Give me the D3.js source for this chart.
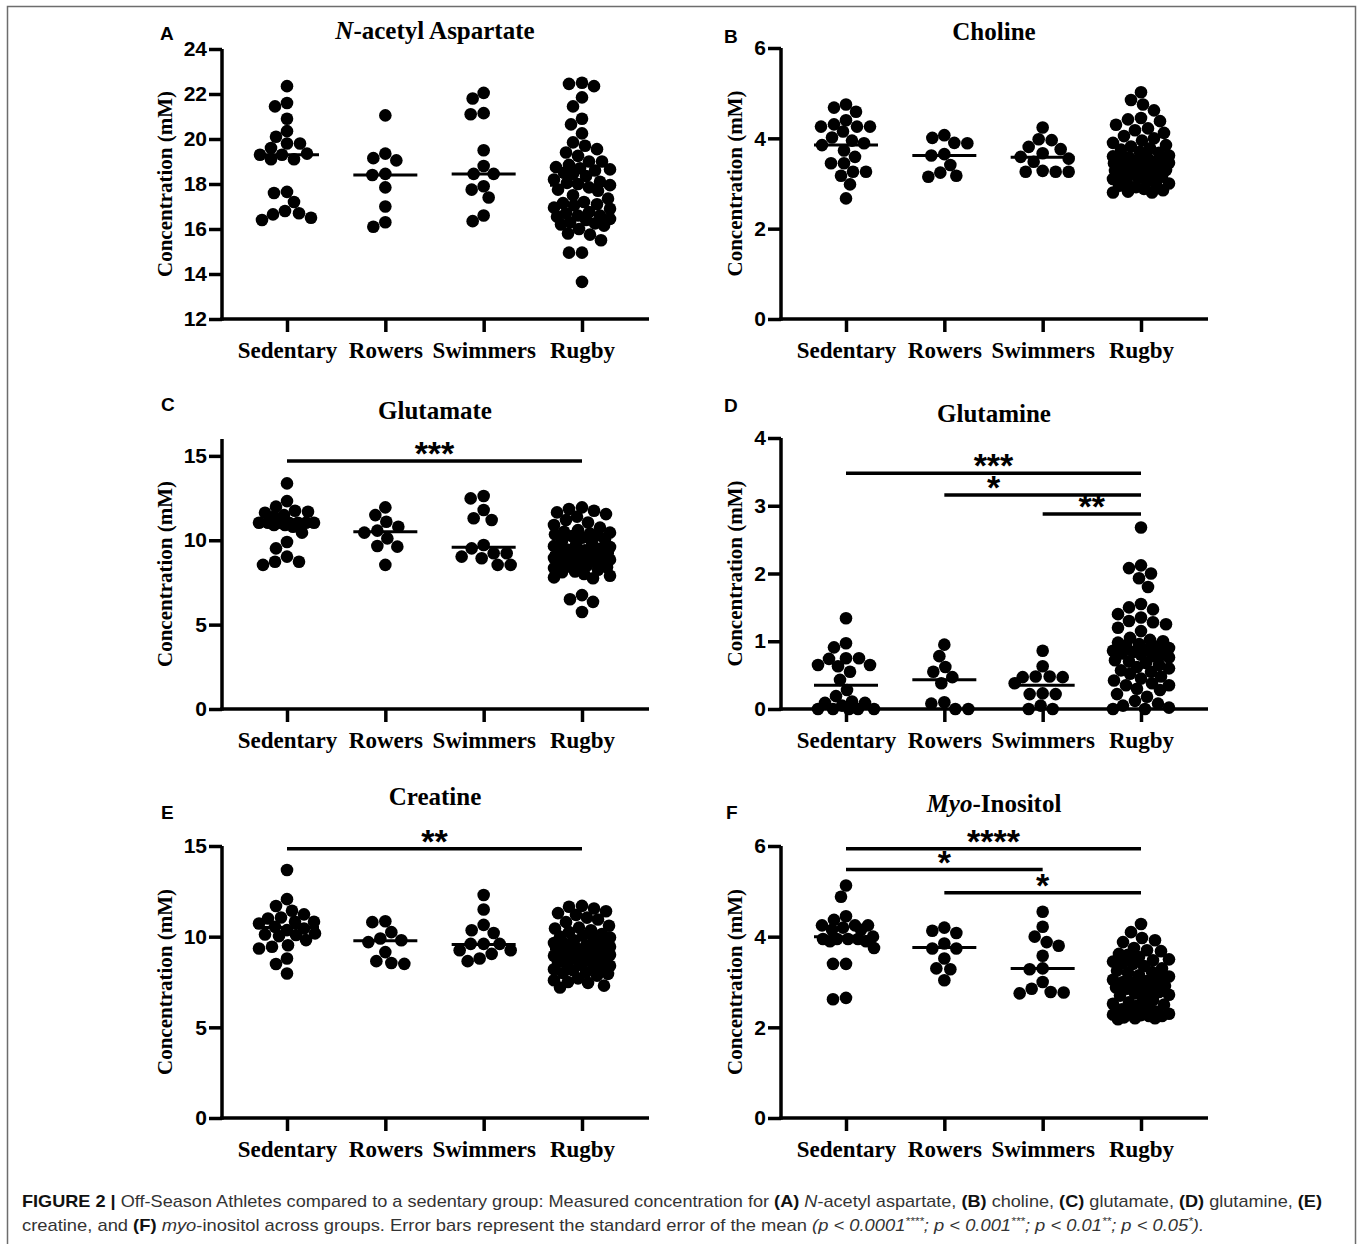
<!DOCTYPE html>
<html>
<head>
<meta charset="utf-8">
<script src="https://cdn.jsdelivr.net/npm/d3@7"></script>
<style>
  body { margin: 0; background: #fff; }
  svg { display: block; }
  .tick text { font-family: "Liberation Sans", Arial, sans-serif; font-weight: bold; font-size: 21px; fill: #000; }
  .xcat .tick text { font-family: "Liberation Serif", "Times New Roman", serif; font-size: 23px; }
</style>
</head>
<body>
<script>
// groups and panel text
const categories = ["Sedentary", "Rowers", "Swimmers", "Rugby"];
const panelLetters = ["A", "B", "C", "D", "E", "F"];
const panelTitles = ["N-acetyl Aspartate", "Choline", "Glutamate", "Glutamine", "Creatine", "Myo-Inositol"];
const titleItalic = ["N", "", "", "", "", "Myo"];
const yLabel = "Concentration (mM)";

// tick values
const naaTicks = [12, 14, 16, 18, 20, 22, 24];
const cholineTicks = [0, 2, 4, 6];
const glutamateTicks = [0, 5, 10, 15];
const glutamineTicks = [0, 1, 2, 3, 4];
const creatineTicks = [0, 5, 10, 15];
const myoTicks = [0, 2, 4, 6];

// y domains
const naaDomain = [12, 24];
const cholineDomain = [0, 6];
const glutamateDomain = [0, 16];
const glutamineDomain = [0, 4];
const creatineDomain = [0, 15];
const myoDomain = [0, 6];

// measured values (mM) per group: Sedentary, Rowers, Swimmers, Rugby
const naa = [
  [22.35, 21.6, 21.45, 20.9, 20.35, 20.1, 19.8, 19.8, 19.6, 19.35, 19.3, 19.3, 19.1, 19.1, 17.65, 17.6, 17.2, 16.8, 16.65, 16.7, 16.5, 16.4],
  [21.05, 19.35, 19.15, 19.05, 18.45, 18.4, 17.85, 17.0, 16.3, 16.1],
  [22.05, 21.8, 21.15, 21.1, 19.5, 18.8, 18.45, 18.45, 17.9, 17.75, 17.4, 16.6, 16.35],
  [22.5, 22.45, 22.35, 21.85, 21.45, 20.9, 20.65, 20.25, 19.85, 19.7, 19.55, 19.4, 19.25, 19.0, 19.0, 18.85, 18.75, 18.7, 18.65, 18.6, 18.5, 18.45, 18.35, 18.2, 18.1, 18.05, 18.0, 17.95, 17.85, 17.75, 17.7, 17.5, 17.35, 17.2, 17.15, 17.1, 17.05, 16.95, 16.9, 16.75, 16.7, 16.6, 16.6, 16.55, 16.45, 16.4, 16.3, 16.25, 16.2, 16.15, 16.0, 15.8, 15.75, 15.5, 14.95, 14.95, 13.65]
];
const choline = [
  [4.75, 4.68, 4.59, 4.4, 4.31, 4.26, 4.26, 4.26, 4.15, 4.02, 3.95, 3.89, 3.85, 3.73, 3.59, 3.45, 3.45, 3.26, 3.26, 3.17, 2.98, 2.67],
  [4.07, 4.01, 3.9, 3.89, 3.65, 3.62, 3.41, 3.24, 3.17, 3.15],
  [4.24, 3.98, 3.96, 3.81, 3.76, 3.67, 3.59, 3.55, 3.48, 3.28, 3.26, 3.26, 3.26],
  [5.02, 4.85, 4.75, 4.62, 4.45, 4.42, 4.38, 4.3, 4.22, 4.18, 4.12, 4.05, 4.0, 3.95, 3.9, 3.85, 3.82, 3.78, 3.75, 3.7, 3.68, 3.62, 3.6, 3.58, 3.55, 3.52, 3.5, 3.5, 3.48, 3.46, 3.45, 3.42, 3.4, 3.38, 3.36, 3.35, 3.32, 3.3, 3.28, 3.25, 3.22, 3.2, 3.18, 3.15, 3.12, 3.1, 3.05, 3.02, 3.0, 2.98, 2.95, 2.92, 2.88, 2.85, 2.82, 2.8, 2.8]
];
const glutamate = [
  [13.37, 12.32, 11.99, 11.75, 11.69, 11.63, 11.49, 11.4, 11.04, 11.04, 11.04, 11.04, 11.04, 11.04, 11.04, 10.9, 10.9, 10.8, 10.45, 9.9, 9.52, 9.03, 8.73, 8.73, 8.54],
  [11.95, 11.49, 11.1, 10.8, 10.57, 10.45, 10.11, 9.66, 9.62, 8.54],
  [12.62, 12.48, 11.79, 11.3, 11.2, 9.72, 9.52, 9.23, 9.23, 9.03, 8.93, 8.54, 8.54],
  [11.95, 11.85, 11.75, 11.65, 11.55, 11.4, 11.2, 11.05, 10.9, 10.75, 10.6, 10.5, 10.45, 10.4, 10.35, 10.3, 10.25, 10.15, 10.05, 9.95, 9.85, 9.75, 9.65, 9.6, 9.5, 9.45, 9.4, 9.35, 9.3, 9.25, 9.2, 9.15, 9.1, 9.05, 9.0, 8.95, 8.9, 8.85, 8.8, 8.75, 8.7, 8.6, 8.5, 8.45, 8.4, 8.35, 8.25, 8.15, 8.1, 8.0, 7.9, 7.8, 7.75, 6.75, 6.5, 6.35, 5.75]
];
const glutamine = [
  [1.34, 0.97, 0.91, 0.75, 0.75, 0.74, 0.65, 0.65, 0.63, 0.55, 0.43, 0.28, 0.19, 0.11, 0.09, 0.09, 0.05, 0.0, 0.0, 0.0, 0.0, 0.0],
  [0.95, 0.78, 0.62, 0.55, 0.47, 0.38, 0.1, 0.08, 0.0, 0.0],
  [0.86, 0.63, 0.48, 0.48, 0.47, 0.47, 0.38, 0.23, 0.22, 0.22, 0.05, 0.0, 0.0],
  [2.68, 2.12, 2.08, 2.0, 1.93, 1.8, 1.55, 1.5, 1.47, 1.4, 1.35, 1.3, 1.28, 1.25, 1.2, 1.15, 1.05, 1.02, 1.0, 0.98, 0.96, 0.94, 0.92, 0.9, 0.88, 0.86, 0.84, 0.82, 0.8, 0.8, 0.78, 0.76, 0.72, 0.7, 0.68, 0.65, 0.62, 0.6, 0.57, 0.55, 0.52, 0.48, 0.45, 0.42, 0.38, 0.35, 0.35, 0.3, 0.28, 0.22, 0.18, 0.12, 0.08, 0.05, 0.02, 0.0, 0.0]
];
const creatine = [
  [13.68, 12.07, 11.69, 11.43, 11.23, 11.06, 11.0, 10.82, 10.82, 10.73, 10.54, 10.45, 10.36, 10.18, 10.12, 10.09, 10.03, 9.81, 9.53, 9.44, 9.35, 8.8, 8.49, 7.97],
  [10.85, 10.8, 10.25, 9.9, 9.8, 9.7, 9.15, 8.65, 8.55, 8.5],
  [12.3, 11.5, 10.65, 10.35, 10.2, 9.6, 9.6, 9.6, 9.25, 9.25, 9.05, 8.8, 8.65],
  [11.7, 11.65, 11.55, 11.4, 11.3, 11.2, 11.05, 10.95, 10.8, 10.6, 10.5, 10.45, 10.35, 10.25, 10.15, 10.05, 10.0, 9.95, 9.85, 9.8, 9.7, 9.65, 9.6, 9.5, 9.45, 9.4, 9.35, 9.3, 9.2, 9.15, 9.1, 9.05, 9.0, 8.95, 8.9, 8.85, 8.8, 8.75, 8.7, 8.6, 8.5, 8.45, 8.4, 8.35, 8.3, 8.2, 8.15, 8.05, 8.0, 7.95, 7.85, 7.7, 7.6, 7.5, 7.45, 7.3, 7.2]
];
const myoInositol = [
  [5.13, 4.88, 4.45, 4.37, 4.25, 4.25, 4.25, 4.2, 4.15, 4.15, 4.0, 3.95, 3.95, 3.95, 3.95, 3.9, 3.9, 3.75, 3.4, 3.4, 2.65, 2.62],
  [4.2, 4.13, 4.08, 3.85, 3.74, 3.74, 3.52, 3.3, 3.28, 3.04],
  [4.55, 4.22, 4.0, 3.88, 3.8, 3.58, 3.3, 3.28, 3.0, 2.85, 2.78, 2.77, 2.75],
  [4.28, 4.1, 3.97, 3.92, 3.88, 3.75, 3.7, 3.68, 3.62, 3.6, 3.55, 3.5, 3.48, 3.45, 3.42, 3.4, 3.35, 3.3, 3.25, 3.22, 3.2, 3.15, 3.12, 3.1, 3.05, 3.02, 3.0, 2.98, 2.95, 2.92, 2.9, 2.88, 2.85, 2.82, 2.78, 2.75, 2.72, 2.7, 2.65, 2.6, 2.55, 2.52, 2.5, 2.48, 2.45, 2.4, 2.35, 2.32, 2.3, 2.28, 2.27, 2.25, 2.25, 2.22, 2.2, 2.2, 2.18]
];

// group means (horizontal lines)
const naaMeans = [19.3, 18.4, 18.45, 17.95];
const cholineMeans = [3.85, 3.62, 3.58, 3.56];
const glutamateMeans = [10.95, 10.5, 9.58, 9.23];
const glutamineMeans = [0.35, 0.43, 0.35, 0.9];
const creatineMeans = [10.5, 9.77, 9.57, 9.3];
const myoMeans = [4.0, 3.76, 3.3, 3.06];

// significance brackets (level in mM)
const naaSig = [];
const cholineSig = [];
const glutamateSig = [{from: "Sedentary", to: "Rugby", level: 14.7, label: "***"}];
const glutamineSig = [
  {from: "Sedentary", to: "Rugby", level: 3.48, label: "***"},
  {from: "Rowers", to: "Rugby", level: 3.16, label: "*", labelAt: ["Rowers", "Swimmers"]},
  {from: "Swimmers", to: "Rugby", level: 2.88, label: "**"}
];
const creatineSig = [{from: "Sedentary", to: "Rugby", level: 14.85, label: "**"}];
const myoSig = [
  {from: "Sedentary", to: "Rugby", level: 5.94, label: "****"},
  {from: "Sedentary", to: "Swimmers", level: 5.48, label: "*"},
  {from: "Rowers", to: "Rugby", level: 4.97, label: "*"}
];

const W = 1357, H = 1244;
const svg = d3.select("body").append("svg").attr("width", W).attr("height", H);

// figure frame
svg.append("rect").attr("x", 7.5).attr("y", 6.5).attr("width", 1348).attr("height", 1260)
  .attr("fill", "none").attr("stroke", "#6d6d6d").attr("stroke-width", 1.5);

const layout = [
  {x0: 222, yBottom: 319, yTop: 49, titleY: 39, letterX: 160, letterY: 40},
  {x0: 781, yBottom: 319, yTop: 48, titleY: 40, letterX: 724, letterY: 43},
  {x0: 222, yBottom: 709, yTop: 439, titleY: 419, letterX: 161, letterY: 411},
  {x0: 781, yBottom: 709, yTop: 438, titleY: 422, letterX: 724, letterY: 412},
  {x0: 222, yBottom: 1118, yTop: 846, titleY: 805, letterX: 161, letterY: 819},
  {x0: 781, yBottom: 1118, yTop: 846, titleY: 812, letterX: 726, letterY: 819}
];
const values = [naa, choline, glutamate, glutamine, creatine, myoInositol];
const means = [naaMeans, cholineMeans, glutamateMeans, glutamineMeans, creatineMeans, myoMeans];
const ticks = [naaTicks, cholineTicks, glutamateTicks, glutamineTicks, creatineTicks, myoTicks];
const domains = [naaDomain, cholineDomain, glutamateDomain, glutamineDomain, creatineDomain, myoDomain];
const sigs = [naaSig, cholineSig, glutamateSig, glutamineSig, creatineSig, myoSig];

const axisW = 3.5, dotR = 6.3, halfMean = 32, swarmHalf = 28;
const serif = '"Liberation Serif", "Times New Roman", serif';
const sans = '"Liberation Sans", Arial, sans-serif';

// simple beeswarm: place dots top-down nearest to the centre without overlap
function swarm(vals, y) {
  const d = 2 * dotR - 0.3;
  const pts = vals.map(v => ({v: v, y: y(v)})).sort((a, b) => a.y - b.y);
  const placed = [];
  pts.forEach(p => {
    let best = 0, bestD = -1;
    for (let k = 0; k <= 2 * swarmHalf; k++) {
      const off = (k % 2 ? -1 : 1) * Math.ceil(k / 2);
      let m = Infinity;
      placed.forEach(q => {
        const dd = Math.hypot(q.dx - off, q.y - p.y);
        if (dd < m) m = dd;
      });
      if (m >= d) { best = off; bestD = m; break; }
      if (m > bestD) { bestD = m; best = off; }
    }
    p.dx = best;
    placed.push(p);
  });
  return placed;
}

layout.forEach((L, i) => {
  const g = svg.append("g");
  const y = d3.scaleLinear().domain(domains[i]).range([L.yBottom, L.yTop]);
  const x = d3.scalePoint().domain(categories).range([L.x0 + 65, L.x0 + 360]);
  const xEnd = L.x0 + 427;

  // panel letter
  g.append("text").attr("x", L.letterX).attr("y", L.letterY)
    .style("font-family", sans).style("font-weight", "bold").style("font-size", "19px")
    .text(panelLetters[i]);

  // title
  const t = g.append("text").attr("x", L.x0 + 213).attr("y", L.titleY).attr("text-anchor", "middle")
    .style("font-family", serif).style("font-weight", "bold").style("font-size", "25px");
  if (titleItalic[i]) {
    t.append("tspan").style("font-style", "italic").text(titleItalic[i]);
    t.append("tspan").text(panelTitles[i].slice(titleItalic[i].length));
  } else {
    t.text(panelTitles[i]);
  }

  // y axis title
  g.append("text")
    .attr("transform", "translate(" + (i % 2 ? 735 : 165) + "," + ((L.yTop + L.yBottom) / 2) + ") rotate(-90)")
    .attr("text-anchor", "middle").attr("dy", "0.35em")
    .style("font-family", serif).style("font-weight", "bold").style("font-size", "21px")
    .text(yLabel);

  // y axis
  const ya = g.append("g").attr("transform", "translate(" + L.x0 + ",0)")
    .call(d3.axisLeft(y).tickValues(ticks[i]).tickFormat(d3.format("d"))
      .tickSize(13).tickSizeOuter(0).tickPadding(2));
  ya.selectAll("path, line").attr("stroke", "#000").attr("stroke-width", axisW);
  ya.select(".domain").attr("d", "M0," + (L.yBottom + axisW / 2) + "V" + L.yTop);

  // x axis
  g.append("line").attr("x1", L.x0 - axisW / 2).attr("x2", xEnd)
    .attr("y1", L.yBottom).attr("y2", L.yBottom)
    .attr("stroke", "#000").attr("stroke-width", axisW);
  const xa = g.append("g").attr("class", "xcat").attr("transform", "translate(0," + L.yBottom + ")")
    .call(d3.axisBottom(x).tickSize(13).tickPadding(10));
  xa.select(".domain").remove();
  xa.selectAll("line").attr("stroke", "#000").attr("stroke-width", axisW);

  // dots
  values[i].forEach((vals, j) => {
    const cx = x(categories[j]);
    g.append("g").selectAll("circle")
      .data(swarm(vals, y))
      .join("circle")
      .attr("cx", d => cx + d.dx)
      .attr("cy", d => d.y)
      .attr("r", dotR)
      .attr("fill", "#000");
  });

  // mean lines
  g.append("g").selectAll("line")
    .data(means[i])
    .join("line")
    .attr("x1", (d, j) => x(categories[j]) - halfMean)
    .attr("x2", (d, j) => x(categories[j]) + halfMean)
    .attr("y1", d => y(d)).attr("y2", d => y(d))
    .attr("stroke", "#000").attr("stroke-width", 3);

  // significance bars
  sigs[i].forEach(s => {
    const yy = y(s.level);
    g.append("line").attr("x1", x(s.from)).attr("x2", x(s.to))
      .attr("y1", yy).attr("y2", yy)
      .attr("stroke", "#000").attr("stroke-width", 3.5);
    const at = s.labelAt || [s.from, s.to];
    g.append("text").attr("x", (x(at[0]) + x(at[1])) / 2).attr("y", yy + 4)
      .attr("text-anchor", "middle")
      .style("font-family", sans).style("font-weight", "bold").style("font-size", "34px")
      .text(s.label);
  });
});

// caption
const cap = svg.append("g").style("font-family", sans).style("font-size", "17px").style("fill", "#333");
const line1 = cap.append("text").attr("x", 22).attr("y", 1207)
  .attr("textLength", 1300).attr("lengthAdjust", "spacingAndGlyphs");
[["FIGURE 2 | ", "b"], ["Off-Season Athletes compared to a sedentary group: Measured concentration for ", ""],
 ["(A)", "b"], [" ", ""], ["N", "i"], ["-acetyl aspartate, ", ""], ["(B)", "b"], [" choline, ", ""],
 ["(C)", "b"], [" glutamate, ", ""], ["(D)", "b"], [" glutamine, ", ""], ["(E)", "b"]].forEach(p => {
  const ts = line1.append("tspan").text(p[0]);
  if (p[1] === "b") ts.style("font-weight", "bold").style("fill", "#111");
  if (p[1] === "i") ts.style("font-style", "italic");
});
const line2 = cap.append("text").attr("x", 22).attr("y", 1231)
  .attr("textLength", 1182).attr("lengthAdjust", "spacingAndGlyphs");
[["creatine, and ", ""], ["(F)", "b"], [" ", ""], ["myo", "i"],
 ["-inositol across groups. Error bars represent the standard error of the mean ", ""],
 ["(p < 0.0001", "i"], ["****", "s"], ["; p < 0.001", "i"], ["***", "s"], ["; p < 0.01", "i"], ["**", "s"],
 ["; p < 0.05", "i"], ["*", "s"], [").", "i"]].forEach(p => {
  const ts = line2.append("tspan").text(p[0]);
  if (p[1] === "b") ts.style("font-weight", "bold").style("fill", "#111");
  if (p[1] === "i" || p[1] === "s") ts.style("font-style", "italic");
  if (p[1] === "s") ts.style("font-size", "11px").attr("dy", -6);
  if (p[1] === "i" && p[0].startsWith(";")) ts.attr("dy", 6);
  if (p[0] === ").") ts.attr("dy", 6);
});
</script>
</body>
</html>
